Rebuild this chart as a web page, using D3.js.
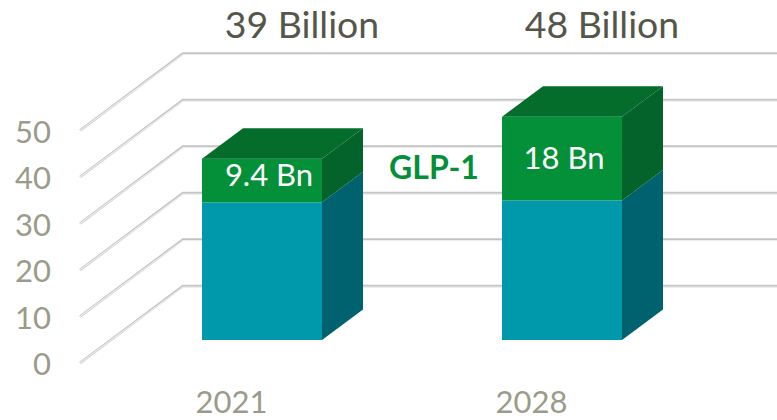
<!DOCTYPE html>
<html>
<head>
<meta charset="utf-8">
<script src="https://cdn.jsdelivr.net/npm/d3@7"></script>
<style>
    html, body { margin: 0; padding: 0; background: #fff; }
    svg { display: block; font-family: Lato, sans-serif; }
    .tick text { fill: #9a9b88; font-size: 31px; font-family: Lato, sans-serif; }
</style>
</head>
<body>
<svg id="chart" width="777" height="420"></svg>
<script>
// Данные
const years = ['2021', '2028'];
const baseValues = [29.6, 30];
const glpValues = [9.4, 18];
const glpLabels = ['9.4 Bn', '18 Bn'];
const totalLabels = ['39 Billion', '48 Billion'];
const yTicks = [0, 10, 20, 30, 40, 50];

const svg = d3.select('#chart');

// Шкала значений: передняя кромка стенки, задняя стенка, плоскость столбцов
const unit = 4.65 * 50;
const yFront = d3.scaleLinear().domain([0, 50]).range([363, 363 - unit]);
const yBack = d3.scaleLinear().domain([0, 50]).range([286, 286 - unit]);
const yBar = d3.scaleLinear().domain([0, 50]).range([340, 340 - unit]);

const x = d3.scaleBand().domain(years).range([202, 622]).paddingInner(0.6);
const xLabel = d3.scalePoint().domain(years).range([231, 531]);

const depthX = 41;
const depthY = -30.5;

// Сетка
const grid = svg.append('g');
yTicks.forEach(t => {
    const path = `M80,${yFront(t)}L183,${yBack(t)}L777,${yBack(t)}`;
    grid.append('path').attr('d', path).attr('fill', 'none')
        .attr('stroke', '#c4c4c4').attr('stroke-width', 2.6);
    grid.append('path').attr('d', `M80,${yFront(t)}L183,${yBack(t) + 1}L777,${yBack(t) + 1}`)
        .attr('fill', 'none').attr('stroke', '#ececec').attr('stroke-width', 1.2);
});

// Подписи осей
const yAxis = d3.axisLeft(yFront).tickValues(yTicks).tickSize(0).tickPadding(0);
const yG = svg.append('g').attr('transform', 'translate(51,2)').call(yAxis);
yG.select('.domain').remove();

const xAxis = d3.axisBottom(xLabel).tickSize(0).tickPadding(0);
const xG = svg.append('g').attr('transform', 'translate(0,391)').call(xAxis);
xG.select('.domain').remove();

// Рисование одного сегмента: передняя и боковая грани
function drawSegment(g, xLeft, w, v0, v1, front, side) {
    const y0 = yBar(v0), y1 = yBar(v1), xr = xLeft + w;
    g.append('path')
        .attr('d', `M${xr},${y0}L${xr + depthX},${y0 + depthY}L${xr + depthX},${y1 + depthY}L${xr},${y1}Z`)
        .attr('fill', side);
    g.append('rect')
        .attr('x', xLeft).attr('y', y1)
        .attr('width', w).attr('height', y0 - y1)
        .attr('fill', front);
}

years.forEach((year, i) => {
    const g = svg.append('g');
    const xLeft = x(year);
    const w = x.bandwidth();
    const total = baseValues[i] + glpValues[i];

    drawSegment(g, xLeft, w, 0, baseValues[i], '#0099ab', '#00626f');
    drawSegment(g, xLeft, w, baseValues[i], total, '#049038', '#04632a');

    // Верхняя грань
    const yt = yBar(total);
    g.append('path')
        .attr('d', `M${xLeft},${yt}L${xLeft + depthX},${yt + depthY}L${xLeft + w + depthX},${yt + depthY}L${xLeft + w},${yt}Z`)
        .attr('fill', '#046d2b');

    g.append('text')
        .attr('x', xLeft + w / 2 + (i === 0 ? 7 : 2))
        .attr('y', (yBar(baseValues[i]) + yt) / 2 + (i === 0 ? -5.5 : -1))
        .attr('dy', '0.35em')
        .attr('text-anchor', 'middle')
        .attr('fill', '#fff')
        .attr('font-size', 31)
        .text(glpLabels[i]);

    svg.append('text')
        .attr('x', xLeft + w / 2 + 40)
        .attr('y', 38)
        .attr('text-anchor', 'middle')
        .attr('fill', '#55564a')
        .attr('font-size', 37.4)
        .text(totalLabels[i]);
});

svg.append('text')
    .attr('x', 434).attr('y', 179)
    .attr('text-anchor', 'middle')
    .attr('fill', '#049038')
    .attr('font-size', 32)
    .attr('font-weight', 700)
    .text('GLP-1');
</script>
</body>
</html>
